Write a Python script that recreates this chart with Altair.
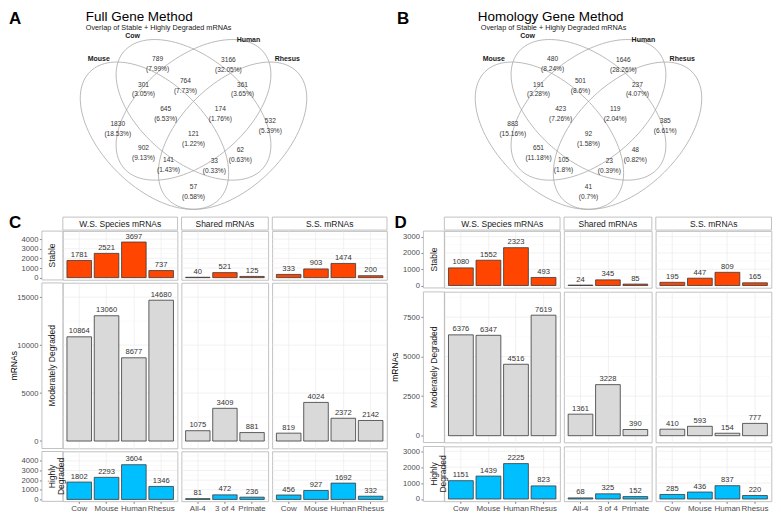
import math
import altair as alt
import pandas as pd

# ------------------------------------------------------------------ data
species = ["Cow", "Mouse", "Human", "Rhesus"]
shared_groups = ["All-4", "3 of 4", "Primate"]
column_titles = ["W.S. Species mRNAs", "Shared mRNAs", "S.S. mRNAs"]
row_titles = ["Stable", "Moderately Degraded", "Highly\nDegraded"]

# Panel C - Full Gene Method
full_stable_ws = [1781, 2521, 3697, 737]
full_stable_shared = [40, 521, 125]
full_stable_ss = [333, 903, 1474, 200]
full_mod_ws = [10864, 13060, 8677, 14680]
full_mod_shared = [1075, 3409, 881]
full_mod_ss = [819, 4024, 2372, 2142]
full_high_ws = [1802, 2293, 3604, 1346]
full_high_shared = [81, 472, 236]
full_high_ss = [456, 927, 1692, 332]

# Panel D - Homology Gene Method
hom_stable_ws = [1080, 1552, 2323, 493]
hom_stable_shared = [24, 345, 85]
hom_stable_ss = [195, 447, 809, 165]
hom_mod_ws = [6376, 6347, 4516, 7619]
hom_mod_shared = [1361, 3228, 390]
hom_mod_ss = [410, 593, 154, 777]
hom_high_ws = [1151, 1439, 2225, 823]
hom_high_shared = [68, 325, 152]
hom_high_ss = [285, 436, 837, 220]

# Venn diagrams (regions listed top to bottom)
venn_sets = ["Mouse", "Cow", "Human", "Rhesus"]
full_venn_counts = [789, 3166, 301, 764, 361, 1830, 645, 174, 532, 121, 902, 62, 141, 33, 57]
full_venn_pcts = ["7.99", "32.05", "3.05", "7.73", "3.65", "18.53", "6.53", "1.76",
                  "5.39", "1.22", "9.13", "0.63", "1.43", "0.33", "0.58"]
hom_venn_counts = [480, 1646, 191, 501, 237, 883, 423, 119, 385, 92, 651, 48, 105, 23, 41]
hom_venn_pcts = ["8.24", "28.26", "3.28", "8.6", "4.07", "15.16", "7.26", "2.04",
                 "6.61", "1.58", "11.18", "0.82", "1.8", "0.39", "0.7"]

# ------------------------------------------------------------------ layout (venn unit square)
venn_region_u = [0.362, 0.634, 0.308, 0.469, 0.688, 0.209, 0.393, 0.603, 0.795,
                 0.5, 0.308, 0.680, 0.404, 0.580, 0.5]
venn_region_v = [0.765, 0.761, 0.668, 0.680, 0.668, 0.514, 0.572, 0.572, 0.525,
                 0.475, 0.421, 0.413, 0.375, 0.371, 0.271]
venn_set_label_u = [0.136, 0.266, 0.711, 0.860]
venn_set_label_v = [0.765, 0.854, 0.842, 0.765]
ellipse_cx = [0.35, 0.5, 0.5, 0.65]
ellipse_cy = [0.47, 0.57, 0.57, 0.47]
ellipse_tilt = [-45, -40, 40, 45]   # degrees, counter-clockwise in the unit square
ELL_A = 0.35
ELL_B = 0.2

FONT = "Liberation Sans"
BORDER = "#b3b3b3"
GRID_MAJOR = "#ebebeb"
GRID_MINOR = "#f4f4f4"
FILL_STABLE = "#FF4500"
FILL_MOD = "#D9D9D9"
FILL_HIGH = "#00BFFF"

PXU_X = 261.0
PXU_Y = 259.0
TOP_H = 199
VENN_TOP_Y = 29   # svg y of unit v = 0.842
LEFT_OVER = 54    # room left of the plot origin (axes / strips / letters)


def ellipse_outline():
    """Outline points of the four Venn ellipses (geometry only)."""
    rows = []
    n = 120
    for s, cx, cy, tilt in zip(venn_sets, ellipse_cx, ellipse_cy, ellipse_tilt):
        t = math.radians(tilt)
        for i in range(n + 1):
            p = 2 * math.pi * i / n
            ex = ELL_A * math.cos(p)
            ey = ELL_B * math.sin(p)
            rows.append({"set": s, "i": i,
                         "x": cx + ex * math.cos(t) - ey * math.sin(t),
                         "y": cy + ex * math.sin(t) + ey * math.cos(t)})
    return pd.DataFrame(rows)


def venn_chart(counts, pcts, title, subtitle, letter, width, height, center_px,
               letter_x, title_x, sub_x):
    x_dom = [0.5 - center_px / PXU_X, 0.5 + (width - center_px) / PXU_X]
    top_v = 0.842 + VENN_TOP_Y / PXU_Y
    y_dom = [top_v - height / PXU_Y, top_v]
    xs = alt.Scale(domain=x_dom, nice=False, zero=False)
    ys = alt.Scale(domain=y_dom, nice=False, zero=False)

    ell = alt.Chart(ellipse_outline()).mark_line(
        color="#a8a8a8", strokeWidth=0.8
    ).encode(
        x=alt.X("x:Q", scale=xs, axis=None),
        y=alt.Y("y:Q", scale=ys, axis=None),
        detail="set:N",
        order="i:Q",
    )
    rdf = pd.DataFrame({
        "x": venn_region_u, "y": venn_region_v,
        "lab": [f"{n}\n({p}%)" for n, p in zip(counts, pcts)],
    })
    regions = alt.Chart(rdf).mark_text(
        fontSize=6.6, lineBreak="\n", lineHeight=10, color="#333333"
    ).encode(x=alt.X("x:Q", scale=xs, axis=None), y=alt.Y("y:Q", scale=ys, axis=None),
             text="lab:N")
    sdf = pd.DataFrame({"x": venn_set_label_u, "y": venn_set_label_v,
                        "s": ["Mouse", "Cow", "Human", "Rhesus"]})
    setlabs = alt.Chart(sdf).mark_text(
        fontSize=7, fontWeight="bold", color="#1a1a1a"
    ).encode(x=alt.X("x:Q", scale=xs, axis=None), y=alt.Y("y:Q", scale=ys, axis=None),
             text="s:N")
    tdf = pd.DataFrame({"t": [title], "st": [subtitle], "l": [letter]})
    ttl = alt.Chart(tdf).mark_text(align="left", baseline="middle", fontSize=13.5,
                                   color="#000000").encode(
        x=alt.value(title_x), y=alt.value(6.8), text="t:N")
    sub = alt.Chart(tdf).mark_text(align="left", baseline="middle", fontSize=7.3,
                                   color="#1a1a1a").encode(
        x=alt.value(sub_x), y=alt.value(17.2), text="st:N")
    let = alt.Chart(tdf).mark_text(align="left", baseline="top", fontSize=17,
                                   fontWeight="bold", color="#000000").encode(
        x=alt.value(letter_x), y=alt.value(0), text="l:N")
    return alt.layer(ell, regions, setlabs, ttl, sub, let).properties(
        width=width, height=height, view=alt.ViewBackground(stroke="transparent"))


def panel(cats, vals, fill, y_dom, majors, minors, w, h, first_col, top_row,
          bottom_row, row_label, col_label, y_title, letter, letter_x):
    df = pd.DataFrame({"cat": cats, "n": vals})
    xs = alt.Scale(domain=cats, paddingInner=0.1, paddingOuter=0.15)
    ys = alt.Scale(domain=y_dom, nice=False, zero=False)
    if bottom_row:
        xaxis = alt.Axis(title="", labelAngle=0, labelFontSize=8, labelColor="#4d4d4d",
                         labelPadding=1.5, tickSize=2, tickColor="#333333", tickWidth=0.6,
                         domain=False, grid=True, gridColor=GRID_MAJOR, gridWidth=0.7,
                         bandPosition=0.5)
    else:
        xaxis = alt.Axis(title="", labels=False, ticks=False, domain=False, grid=True,
                         gridColor=GRID_MAJOR, gridWidth=0.7, bandPosition=0.5)
    if first_col:
        yaxis = alt.Axis(values=majors, offset=21, tickSize=2.5, tickColor="#333333",
                         tickWidth=0.6, labelFontSize=7.6, labelColor="#4d4d4d",
                         labelPadding=1.5, domain=False, grid=False, labelOverlap=False,
                         labelFlush=False, format="d", title="")
    else:
        yaxis = None

    mdf = pd.DataFrame({"n": minors})
    gdf = pd.DataFrame({"n": majors})
    minor_rules = alt.Chart(mdf).mark_rule(color=GRID_MINOR, strokeWidth=0.5).encode(
        y=alt.Y("n:Q", scale=ys, axis=yaxis))
    major_rules = alt.Chart(gdf).mark_rule(color=GRID_MAJOR, strokeWidth=0.7).encode(
        y=alt.Y("n:Q", scale=ys, axis=yaxis))
    bars = alt.Chart(df).mark_bar(fill=fill, stroke="#3a3a3a", strokeWidth=0.8).encode(
        x=alt.X("cat:N", scale=xs, axis=xaxis, sort=cats),
        y=alt.Y("n:Q", scale=ys, axis=yaxis),
        y2=alt.datum(0),
    )
    labels = alt.Chart(df).mark_text(baseline="bottom", dy=-1.5, fontSize=7.6,
                                     color="#333333").encode(
        x=alt.X("cat:N", scale=xs, axis=xaxis, sort=cats),
        y=alt.Y("n:Q", scale=ys, axis=yaxis),
        text=alt.Text("n:Q", format="d"),
    )
    layers = [minor_rules, major_rules, bars, labels]
    if first_col:
        sdf = pd.DataFrame({"t": [row_label]})
        layers.append(alt.Chart(sdf).mark_rect(fill="white", stroke=BORDER,
                                               strokeWidth=0.8).encode(
            x=alt.value(-21), x2=alt.value(0), y=alt.value(0), y2=alt.value(h)))
        layers.append(alt.Chart(sdf).mark_text(angle=270, fontSize=8.5, color="#1a1a1a",
                                               lineBreak="\n", lineHeight=9).encode(
            x=alt.value(-10.5), y=alt.value(h / 2), text="t:N"))
        if y_title:
            tdf = pd.DataFrame({"t": [y_title]})
            layers.append(alt.Chart(tdf).mark_text(angle=270, fontSize=8.5,
                                                   color="#000000").encode(
                x=alt.value(-49), y=alt.value(h / 2), text="t:N"))
    if top_row:
        cdf = pd.DataFrame({"t": [col_label]})
        layers.append(alt.Chart(cdf).mark_rect(fill="white", stroke=BORDER,
                                               strokeWidth=0.8).encode(
            x=alt.value(0), x2=alt.value(w), y=alt.value(-14), y2=alt.value(-1)))
        layers.append(alt.Chart(cdf).mark_text(fontSize=8.5, color="#1a1a1a").encode(
            x=alt.value(w / 2), y=alt.value(-7.5), text="t:N"))
        if letter:
            ldf = pd.DataFrame({"t": [letter]})
            layers.append(alt.Chart(ldf).mark_text(align="left", baseline="middle",
                                                   fontSize=17, fontWeight="bold",
                                                   color="#000000").encode(
                x=alt.value(letter_x), y=alt.value(-8), text="t:N"))
    return alt.layer(*layers).properties(
        width=w, height=h, view=alt.ViewBackground(stroke=BORDER, strokeWidth=0.8))


def figure(values, domains, majors, minors, heights, widths, row_gap, letter, letter_x):
    fills = [FILL_STABLE, FILL_MOD, FILL_HIGH]
    cats = [species, shared_groups, species]
    cells = []
    for r in range(3):
        for c in range(3):
            cells.append(panel(
                cats[c], values[r][c], fills[r], domains[r], majors[r], minors[r],
                widths[c], heights[r], first_col=(c == 0), top_row=(r == 0),
                bottom_row=(r == 2), row_label=row_titles[r], col_label=column_titles[c],
                y_title=("mRNAs" if (r == 1 and c == 0) else ""),
                letter=(letter if c == 0 else ""), letter_x=letter_x))
    return alt.concat(*cells, columns=3, spacing={"row": row_gap, "column": 4},
                      bounds="flush")


full_values = [
    [full_stable_ws, full_stable_shared, full_stable_ss],
    [full_mod_ws, full_mod_shared, full_mod_ss],
    [full_high_ws, full_high_shared, full_high_ss],
]
hom_values = [
    [hom_stable_ws, hom_stable_shared, hom_stable_ss],
    [hom_mod_ws, hom_mod_shared, hom_mod_ss],
    [hom_high_ws, hom_high_shared, hom_high_ss],
]

figC = figure(
    full_values,
    domains=[[-240, 4836], [-780, 16480], [-203, 4975]],
    majors=[[0, 1000, 2000, 3000, 4000], [0, 5000, 10000, 15000], [0, 1000, 2000, 3000, 4000]],
    minors=[[500, 1500, 2500, 3500, 4500], [2500, 7500, 12500], [500, 1500, 2500, 3500, 4500]],
    heights=[49, 166, 50], widths=[115, 87, 115], row_gap=3, letter="C",
    letter_x=-LEFT_OVER)

figD = figure(
    hom_values,
    domains=[[-150, 3342], [-433, 9091], [-150, 3300]],
    majors=[[0, 1000, 2000, 3000], [0, 2500, 5000, 7500], [0, 1000, 2000, 3000]],
    minors=[[500, 1500, 2500], [1250, 3750, 6250, 8750], [500, 1500, 2500]],
    heights=[57, 151, 55], widths=[116, 88, 116], row_gap=4, letter="D", letter_x=-50)

# venn A starts at the common plot origin; its letter hangs into the left margin
vennA = venn_chart(full_venn_counts, full_venn_pcts, "Full Gene Method",
                   "Overlap of Stable + Highly Degraded mRNAs", "A",
                   width=385 - LEFT_OVER, height=TOP_H, center_px=185 - LEFT_OVER,
                   letter_x=-LEFT_OVER, title_x=77 - LEFT_OVER, sub_x=77 - LEFT_OVER)
vennB = venn_chart(hom_venn_counts, hom_venn_pcts, "Homology Gene Method",
                   "Overlap of Stable + Highly Degraded mRNAs", "B",
                   width=378, height=TOP_H, center_px=194, letter_x=2, title_x=83, sub_x=86)

top_row = alt.hconcat(vennA, vennB, spacing=0)
bottom_row = alt.hconcat(figC, figD, spacing=2.5)

chart = alt.vconcat(top_row, bottom_row, spacing=1).properties(
    padding=0
).configure(font=FONT).configure_view(stroke="transparent")

chart.save("out.html", embed_options={"renderer": "svg", "actions": False})
